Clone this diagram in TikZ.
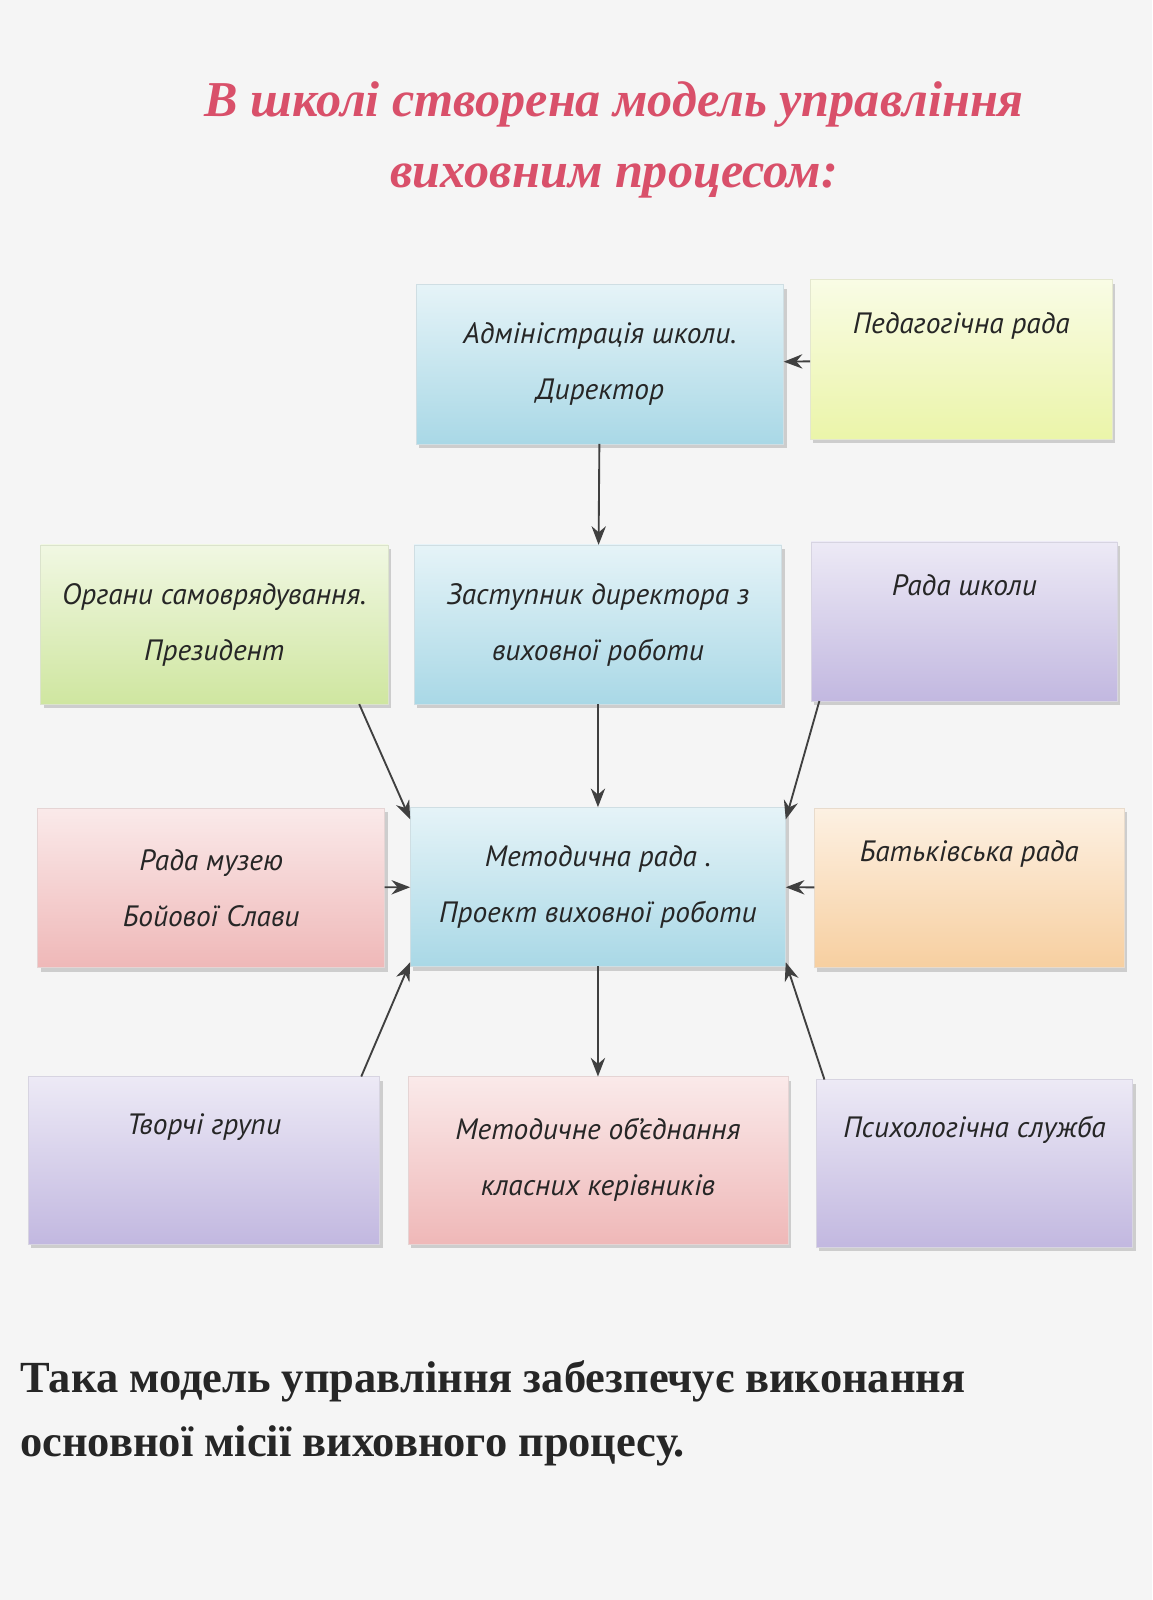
\documentclass[tikz,border=0pt]{standalone}
\usepackage{fontspec}
\setmainfont{Liberation Serif}
\newfontfamily\boxfont{PT Sans}
\usetikzlibrary{arrows.meta, shadows}

\definecolor{blueBox}{HTML}{A9D8E6}
\definecolor{greenBox}{HTML}{CFE6A0}
\definecolor{lilacBox}{HTML}{C2B8E0}
\definecolor{pinkBox}{HTML}{EFB8B8}
\definecolor{peachBox}{HTML}{F7CFA0}
\definecolor{titleRed}{HTML}{D9506A}

\tikzset{
    unit/.style={x=0.025cm, y=-0.025cm},
    box/.style={minimum width=9cm, minimum height=3.9cm, inner sep=0pt, outer sep=0pt,
        align=center, font=\boxfont\itshape\fontsize{20.5}{39}\selectfont, text=black!85,
        top color=#1!30!white, bottom color=#1, draw=#1!80!black!40,
        drop shadow={shadow xshift=2pt, shadow yshift=-3pt, fill=black!35}},
    link/.style={-{Stealth[length=13pt, width=10pt]}, line width=1.3pt, black!75}
}

\begin{document}
\begin{tikzpicture}[unit]
        \useasboundingbox[fill=white!96!black] (0,0) rectangle (1129,1568);

        % Title
        \node[font=\bfseries\itshape\fontsize{35}{50}\selectfont, text=titleRed, align=center] (title) at (602,137)
            {В школі створена модель управління\\ виховним процесом:};

        % Top row
        \node[box=blueBox, minimum width=9cm] (adm) at (588,357) {Адміністрація школи.\\ Директор};
        \node[box=greenBox!70!yellow!60!white, minimum width=7.4cm] (ped) at (942,352) {Педагогічна рада\\ \strut};

        % Second row
        \node[box=greenBox, minimum width=8.5cm] (org) at (210,612) {Органи самоврядування.\\ Президент};
        \node[box=blueBox] (zast) at (586,612) {Заступник директора з\\ виховної роботи};
        \node[box=lilacBox, minimum width=7.5cm] (rada) at (945,609) {Рада школи\\ \strut};

        % Third row
        \node[box=pinkBox, minimum width=8.5cm] (muz) at (207,870) {Рада музею\\ Бойової Слави};
        \node[box=blueBox, minimum width=9.2cm] (met) at (586,869) {Методична рада .\\ Проект виховної роботи};
        \node[box=peachBox, minimum width=7.6cm] (batk) at (950,870) {Батьківська рада\\ \strut};

        % Bottom row
        \node[box=lilacBox, minimum width=8.6cm, minimum height=4.1cm] (tvor) at (200,1137) {Творчі групи\\ \strut};
        \node[box=pinkBox, minimum width=9.3cm, minimum height=4.1cm] (mo) at (586,1137) {Методичне об’єднання\\ класних керівників};
        \node[box=lilacBox, minimum width=7.75cm, minimum height=4.1cm] (psy) at (955,1140) {Психологічна служба\\ \strut};

        % Links
        \draw[link] (adm) -- (zast);
        \draw[link] (ped) -- (adm);
        \draw[link] (zast) -- (met);
        \draw[link] ([xshift=-0.7cm]org.south east) -- ([yshift=-0.3cm]met.north west);
        \draw[link] ([xshift=0.2cm]rada.south west) -- ([yshift=-0.3cm]met.north east);
        \draw[link] (muz) -- (met);
        \draw[link] (batk) -- (met);
        \draw[link] (met) -- (mo);
        \draw[link] ([xshift=-0.45cm]tvor.north east) -- ([yshift=0.1cm]met.south west);
        \draw[link] ([xshift=0.2cm]psy.north west) -- ([yshift=0.1cm]met.south east);

        % Bottom text
        \node[font=\bfseries\fontsize{31}{45}\selectfont, text=black!85, align=left, anchor=west] (note) at (15,1385)
            {Така модель управління забезпечує виконання\\ основної місії виховного процесу.};
\end{tikzpicture}
\end{document}
